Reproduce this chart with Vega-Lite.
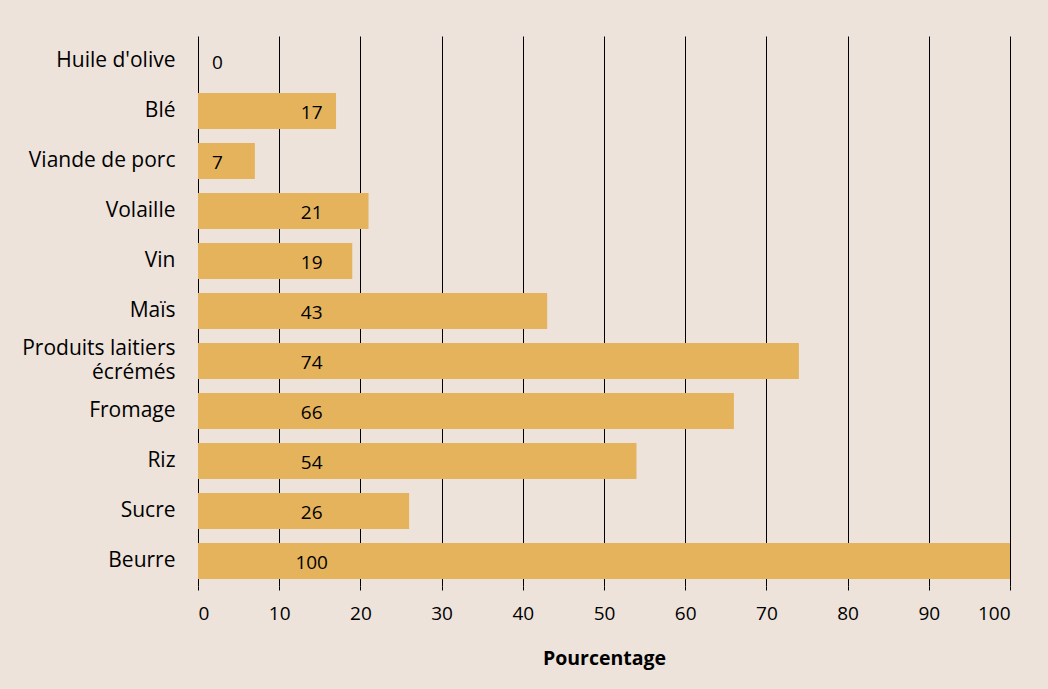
{
  "$schema": "https://vega.github.io/schema/vega-lite/v6.json",
  "width": 812,
  "height": 550,
  "autosize": {"type": "none"},
  "padding": {"left": 198, "top": 36, "right": 38, "bottom": 103},
  "background": "#ede3db",
  "config": {
    "view": {"stroke": null},
    "font": "Open Sans",
    "axis": {"labelFont": "Open Sans", "titleFont": "Open Sans", "labelColor": "#000000", "titleColor": "#000000"}
  },
  "data": {
    "values": [
      {"produit": "Huile d'olive", "pct": 0},
      {"produit": "Blé", "pct": 17},
      {"produit": "Viande de porc", "pct": 7},
      {"produit": "Volaille", "pct": 21},
      {"produit": "Vin", "pct": 19},
      {"produit": "Maïs", "pct": 43},
      {"produit": "Produits laitiers écrémés", "pct": 74},
      {"produit": "Fromage", "pct": 66},
      {"produit": "Riz", "pct": 54},
      {"produit": "Sucre", "pct": 26},
      {"produit": "Beurre", "pct": 100}
    ]
  },
  "encoding": {
    "y": {
      "field": "produit",
      "type": "nominal",
      "sort": null,
      "scale": {"paddingInner": 0.28, "paddingOuter": 0.14},
      "axis": {
        "title": null,
        "domain": false,
        "ticks": false,
        "labelPadding": 23,
        "labelFontSize": 21,
        "labelLineHeight": 24,
        "labelOffset": {"condition": {"test": "datum.value == 'Produits laitiers écrémés'", "value": -12}, "value": 0},
        "labelExpr": "datum.value == 'Produits laitiers écrémés' ? ['Produits laitiers', 'écrémés'] : datum.value"
      }
    }
  },
  "layer": [
    {
      "mark": {"type": "bar", "color": "#e4b35c"},
      "encoding": {
        "x": {
          "field": "pct",
          "type": "quantitative",
          "scale": {"domain": [0, 100], "nice": false},
          "axis": {
            "title": "Pourcentage",
            "titleFontSize": 19.5,
            "titleFontWeight": "bold",
            "titlePadding": 26,
            "values": [0, 10, 20, 30, 40, 50, 60, 70, 80, 90, 100],
            "grid": true,
            "gridColor": "#000000",
            "gridOpacity": 1,
            "gridWidth": 1,
            "domain": false,
            "ticks": true,
            "tickColor": "#000000",
            "tickSize": 4,
            "labelPadding": 14,
            "labelFontSize": 19
          }
        }
      }
    },
    {
      "transform": [{"filter": "datum.pct >= 10"}],
      "mark": {"type": "text", "fontSize": 19, "color": "#000000", "baseline": "middle", "dy": 2},
      "encoding": {
        "x": {"datum": 14, "type": "quantitative"},
        "text": {"field": "pct", "type": "quantitative"}
      }
    },
    {
      "transform": [{"filter": "datum.pct < 10"}],
      "mark": {"type": "text", "fontSize": 19, "color": "#000000", "baseline": "middle", "dy": 2},
      "encoding": {
        "x": {"datum": 2.4, "type": "quantitative"},
        "text": {"field": "pct", "type": "quantitative"}
      }
    }
  ]
}
